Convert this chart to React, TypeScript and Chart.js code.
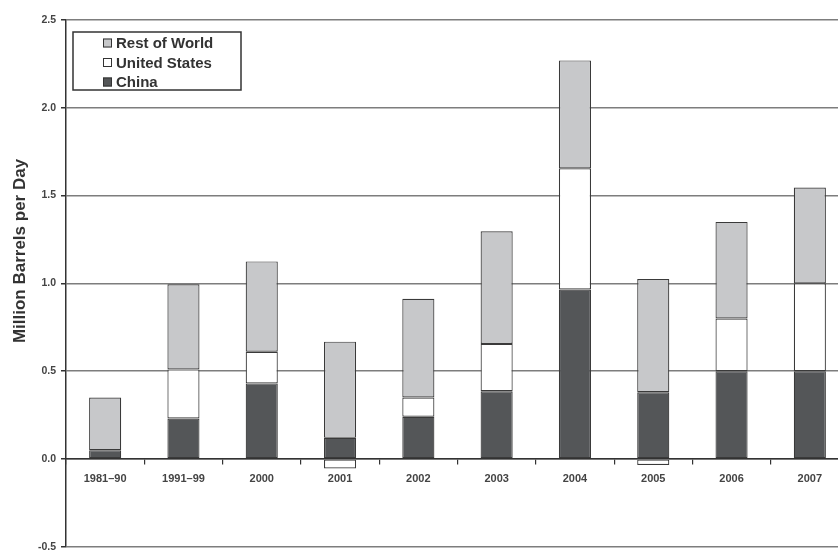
import Chart from 'chart.js/auto';
import { useEffect, useRef } from 'react';

// values, million barrels per day
const categories = ['1981–90', '1991–99', '2000', '2001', '2002', '2003', '2004', '2005', '2006', '2007'];
const chinaValues = [0.05, 0.23, 0.43, 0.12, 0.24, 0.385, 0.965, 0.38, 0.5, 0.5];
const usValues = [0.0, 0.28, 0.18, -0.055, 0.11, 0.27, 0.69, -0.035, 0.3, 0.5];
const restOfWorldValues = [0.3, 0.485, 0.515, 0.548, 0.562, 0.642, 0.615, 0.645, 0.55, 0.546];
const yTicks = [-0.5, 0, 0.5, 1.0, 1.5, 2.0, 2.5];
const yTitle = 'Million Barrels per Day';

const FONT = "'Liberation Sans', Arial, sans-serif";

// boxed legend sitting inside the plot, top-left
const legendBox = {
  id: 'legendBox',
  afterDraw(chart: any) {
    const { ctx, chartArea } = chart;
    const x = chartArea.left + 7;
    const y = chartArea.top + 12;
    ctx.save();
    ctx.fillStyle = '#fff';
    ctx.fillRect(x, y, 168, 58);
    ctx.strokeStyle = '#333';
    ctx.lineWidth = 1.5;
    ctx.strokeRect(x, y, 168, 58);
    const items = [...chart.data.datasets].reverse();
    ctx.font = `bold 15px ${FONT}`;
    ctx.textBaseline = 'middle';
    items.forEach((ds: any, i: number) => {
      const cy = y + 11 + i * 19.5;
      ctx.fillStyle = ds.backgroundColor;
      ctx.fillRect(x + 30, cy - 4.5, 9, 9);
      ctx.strokeStyle = '#333';
      ctx.lineWidth = 1;
      ctx.strokeRect(x + 30.5, cy - 4, 8, 8);
      ctx.fillStyle = '#333';
      ctx.fillText(ds.label, x + 43, cy + 1);
    });
    ctx.restore();
  },
};

// y title sits a little above the middle of the axis in the original
const sideTitle = {
  id: 'sideTitle',
  afterDraw(chart: any) {
    const { ctx } = chart;
    ctx.save();
    ctx.translate(20, 251);
    ctx.rotate(-Math.PI / 2);
    ctx.font = `bold 17px ${FONT}`;
    ctx.fillStyle = '#333';
    ctx.textAlign = 'center';
    ctx.textBaseline = 'middle';
    ctx.fillText(yTitle, 0, 0);
    ctx.restore();
  },
};

export default function App() {
  const canvasRef = useRef<HTMLCanvasElement>(null);

  useEffect(() => {
    if (!canvasRef.current) return;
    const bar = {
      borderColor: '#3a3a3a',
      borderWidth: 1.2,
      borderSkipped: false,
      barPercentage: 0.41,
      categoryPercentage: 1,
      stack: 'all',
    };
    const chart = new Chart(canvasRef.current, {
      type: 'bar',
      data: {
        labels: categories,
        datasets: [
          { ...bar, label: 'China', data: chinaValues, backgroundColor: '#545658' },
          { ...bar, label: 'United States', data: usValues, backgroundColor: '#ffffff' },
          { ...bar, label: 'Rest of World', data: restOfWorldValues, backgroundColor: '#c7c8ca' },
        ],
      },
      options: {
        responsive: false,
        animation: false,
        layout: { padding: { top: 20, bottom: 3, left: 0, right: 3 } },
        plugins: {
          legend: { display: false },
          tooltip: { enabled: false },
        },
        scales: {
          x: {
            stacked: true,
            position: { y: 0 },
            grid: { drawOnChartArea: false, drawTicks: true, tickLength: 5, color: '#333', lineWidth: 1.2 },
            border: { display: true, color: '#333', width: 1.5 },
            ticks: { color: '#444', padding: 8, font: { family: FONT, size: 11, weight: 'bold' }, maxRotation: 0 },
          },
          y: {
            stacked: true,
            min: -0.5,
            max: 2.5,
            afterBuildTicks: (scale: any) => {
              scale.ticks = yTicks.map((v) => ({ value: v }));
            },
            afterFit: (scale: any) => {
              scale.width = 66;
            },
            grid: { color: '#7d7d7d', lineWidth: 1.5, tickLength: 5, tickColor: '#333' },
            border: { display: true, color: '#333', width: 1.5 },
            ticks: {
              color: '#444',
              padding: 5,
              font: { family: FONT, size: 10.5, weight: 'bold' },
              callback: (v: any) => Number(v).toFixed(1),
            },
          },
        },
      },
      plugins: [legendBox, sideTitle],
    });
    return () => chart.destroy();
  }, []);

  return (
    <div style={{ position: 'fixed', left: 0, top: 0, width: 838, height: 552, overflow: 'hidden', background: '#fff' }}>
      <canvas ref={canvasRef} width={852} height={558} />
    </div>
  );
}
